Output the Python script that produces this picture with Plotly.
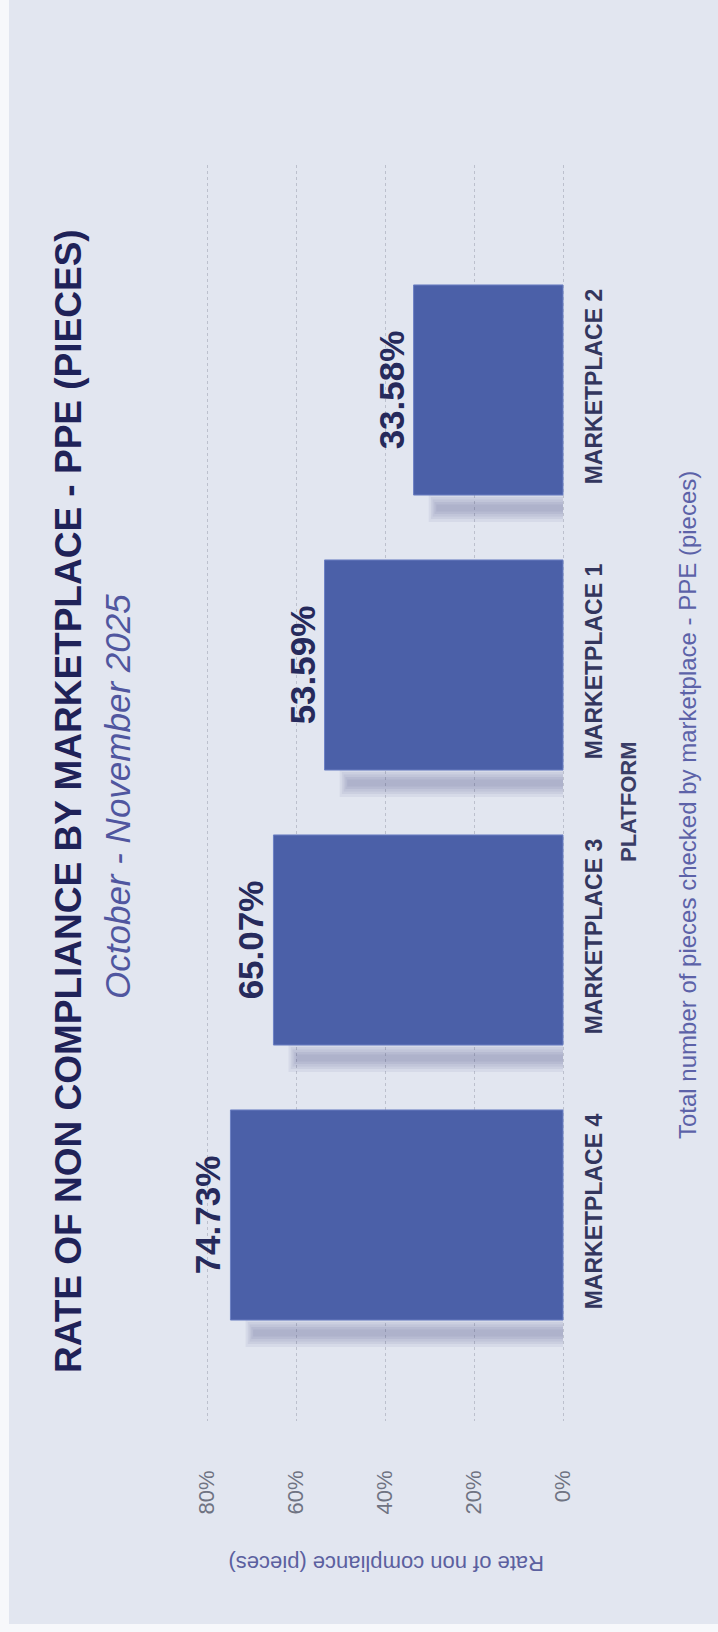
import plotly.graph_objects as go

# Data
marketplaces = ["MARKETPLACE 4", "MARKETPLACE 3", "MARKETPLACE 1", "MARKETPLACE 2"]
non_compliance_rate = [74.73, 65.07, 53.59, 33.58]
rate_ticks = [0, 20, 40, 60, 80]
rate_tick_text = ["0%", "20%", "40%", "60%", "80%"]

title_text = "RATE OF NON COMPLIANCE BY MARKETPLACE - PPE (PIECES)"
subtitle_text = "October - November 2025"
value_axis_title = "Rate of non compliance (pieces)"
category_axis_title = "PLATFORM"
caption_text = "Total number of pieces checked by marketplace - PPE (pieces)"

# Page geometry (pixels)
W, H = 718, 1632
L, R, T, B = 195, 143, 165, 211
PW, PH = W - L - R, H - T - B

BG = "#e2e6f0"
BAR = "#4b60a8"
FONT = "Liberation Sans, Arial, sans-serif"


def px_x(px):
    return (px - L) / PW


def px_y(py):
    return (H - B - py) / PH


BAR_W = 0.764          # bar thickness, in category units
PX = 1 / 275           # one pixel along the category axis

fig = go.Figure()

# soft drop shadow under each bar: nested translucent bands around one centre line
SHADOW_CENTRE = 13     # pixels below the bar edge
for half, shorten in [(14, 3.4), (11, 3.9), (8.5, 4.3), (6, 4.7), (3.5, 5.1)]:
    fig.add_trace(go.Bar(
        y=marketplaces,
        x=[v - shorten for v in non_compliance_rate],
        orientation="h",
        width=2 * half * PX,
        offset=-BAR_W / 2 - (SHADOW_CENTRE + half) * PX,
        marker=dict(color="rgba(45,52,110,0.062)", line=dict(width=0)),
        hoverinfo="skip",
        showlegend=False,
    ))

# main bars with value labels
fig.add_trace(go.Bar(
    y=marketplaces,
    x=non_compliance_rate,
    orientation="h",
    width=BAR_W,
    marker=dict(color=BAR, line=dict(color="#6d81c4", width=1)),
    text=[f"{v:.2f}%" for v in non_compliance_rate],
    textposition="outside",
    textangle=-90,
    textfont=dict(family=FONT, size=35, color="#262a5c", weight="bold"),
    cliponaxis=False,
    showlegend=False,
))

fig.update_layout(
    width=W, height=H,
    margin=dict(l=L, r=R, t=T, b=B, pad=0),
    paper_bgcolor=BG, plot_bgcolor=BG,
    barmode="overlay",
    font=dict(family=FONT),
    showlegend=False,
)

fig.update_xaxes(
    range=[(563 - L) / 4.45, -(W - R - 563) / 4.45],
    tickvals=rate_ticks, ticktext=rate_tick_text,
    tickangle=-90,
    tickfont=dict(family=FONT, size=22, color="#6f7382"),
    ticklabelstandoff=44,
    showgrid=True, gridcolor="#bcc0cd", griddash="dot", gridwidth=1,
    zeroline=False, showline=False, ticks="",
)

fig.update_yaxes(
    type="category",
    categoryorder="array", categoryarray=marketplaces,
    range=[(1215 - (H - B)) / 275, (1215 - T) / 275],
    side="right",
    tickangle=-90,
    tickfont=dict(family=FONT, size=23, color="#33365e", weight="bold"),
    ticklabelstandoff=3,
    showgrid=False, zeroline=False, showline=False, ticks="",
)

# light frame on the left and bottom edges of the page
fig.add_shape(type="rect", xref="paper", yref="paper",
              x0=px_x(-2), x1=px_x(9), y0=px_y(H + 2), y1=px_y(-2),
              fillcolor="#f7f8fb", line=dict(width=0), layer="below")
fig.add_shape(type="rect", xref="paper", yref="paper",
              x0=px_x(-2), x1=px_x(W + 2), y0=px_y(H + 2), y1=px_y(H - 8),
              fillcolor="#f7f8fb", line=dict(width=0), layer="below")

annotations = [
    dict(text=title_text, x=px_x(68), y=px_y(801), textangle=-90,
         font=dict(family=FONT, size=37, color="#1f2258", weight="bold")),
    dict(text=subtitle_text, x=px_x(117), y=px_y(797), textangle=-90,
         font=dict(family=FONT, size=35, color="#50569f", style="italic")),
    dict(text=category_axis_title, x=px_x(628), y=px_y(802), textangle=-90,
         font=dict(family=FONT, size=22, color="#3a3d66", weight="bold")),
    dict(text=caption_text, x=px_x(687), y=px_y(805), textangle=-90,
         font=dict(family=FONT, size=24, color="#5c62a8")),
    dict(text=value_axis_title, x=px_x(386), y=px_y(1564), textangle=180,
         font=dict(family=FONT, size=22, color="#5b609f")),
]
for a in annotations:
    fig.add_annotation(xref="paper", yref="paper", showarrow=False,
                       xanchor="center", yanchor="middle", **a)

fig.write_html("out.html")
